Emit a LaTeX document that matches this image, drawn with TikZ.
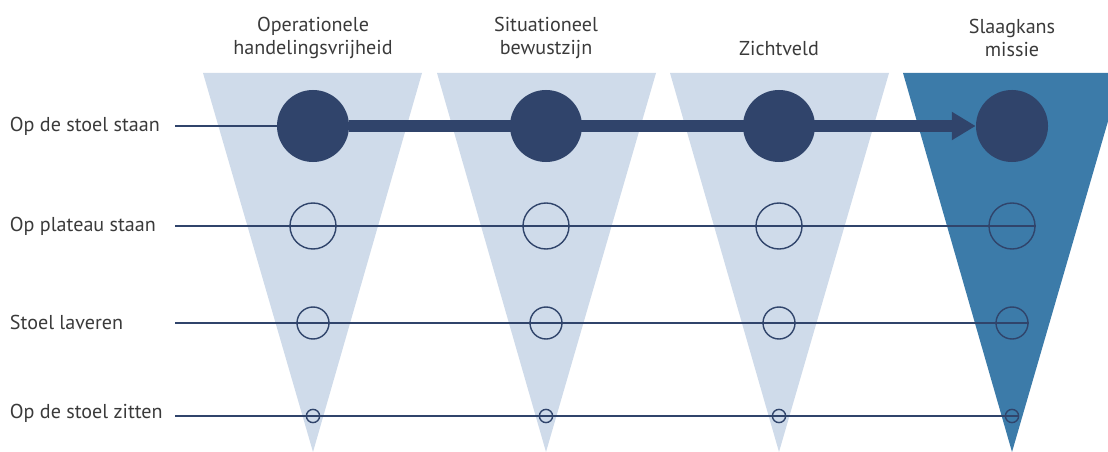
\documentclass[tikz,border=0pt]{standalone}
\usepackage{fontspec}
\setmainfont{PT Sans}
\usetikzlibrary{arrows.meta}
\definecolor{lichtblauw}{HTML}{CFDBEA}
\definecolor{hemelsblauw}{HTML}{3C7BA9}
\definecolor{donkerblauw}{HTML}{30446B}
\definecolor{tekst}{HTML}{3A3A3A}
\tikzset{vol/.style= {circle, fill=donkerblauw, inner sep=0pt, minimum size=1.8cm},
         ring/.style= {circle, draw=donkerblauw, line width=1pt, inner sep=0pt},
         kop/.style= {text=tekst, align=center, font=\fontsize{14.3}{16.3}\selectfont},
         rij/.style= {text=tekst, anchor=west, font=\fontsize{14.3}{16.3}\selectfont},
         lijn/.style= {draw=donkerblauw, line width=0.9pt}}

\begin{document}
\begin{tikzpicture}[x=0.025cm,y=-0.025cm]
        \useasboundingbox(0,0)rectangle(1108,452);
        \clip(0,0)rectangle(1108,452);

        \fill[lichtblauw](203,73)--(422,73)--(313,452)--cycle;
        \fill[lichtblauw](437,73)--(656,73)--(546,452)--cycle;
        \fill[lichtblauw](670,73)--(889,73)--(779,452)--cycle;
        \fill[hemelsblauw](903,73)--(1122,73)--(1012,452)--cycle;

        \node[kop](k1)at(313,38){Operationele\\handelingsvrijheid};
        \node[kop](k2)at(546,38){Situationeel\\bewustzijn};
        \node[kop](k3)at(779,49){Zichtveld};
        \node[kop](k4)at(1012,38){Slaagkans\\missie};

        \node[rij](r1)at(5,126){Op de stoel staan};
        \node[rij](r2)at(5,226){Op plateau staan};
        \node[rij](r3)at(5,322){Stoel laveren};
        \node[rij](r4)at(5,413){Op de stoel zitten};

        \coordinate(l1)at(175,126);
        \coordinate(l2)at(175,226);
        \coordinate(l3)at(175,323);
        \coordinate(l4)at(175,416);

        \node[vol](a1)at(313,126){};
        \node[vol](a2)at(546,126){};
        \node[vol](a3)at(779,126){};
        \node[vol](a4)at(1012,126){};

        \node[ring,minimum size=1.15cm](b1)at(313,226){};
        \node[ring,minimum size=1.15cm](b2)at(546,226){};
        \node[ring,minimum size=1.15cm](b3)at(779,226){};
        \node[ring,minimum size=1.15cm](b4)at(1012,226){};

        \node[ring,minimum size=0.8cm](c1)at(313,323){};
        \node[ring,minimum size=0.8cm](c2)at(546,323){};
        \node[ring,minimum size=0.8cm](c3)at(779,323){};
        \node[ring,minimum size=0.8cm](c4)at(1012,323){};

        \node[ring,minimum size=0.33cm](d1)at(313,416){};
        \node[ring,minimum size=0.33cm](d2)at(546,416){};
        \node[ring,minimum size=0.33cm](d3)at(779,416){};
        \node[ring,minimum size=0.33cm](d4)at(1012,416){};

        \draw[lijn](l1)--(a1.west);
        \draw[lijn](l2)--(b4.east);
        \draw[lijn](l3)--(c4.east);
        \draw[lijn](l4)--(d4.east);

        \draw[-{Triangle[length=17pt,width=19pt]},donkerblauw,line width=9pt](a1.east)--(a4.west);
    \end{tikzpicture}
\end{document}
